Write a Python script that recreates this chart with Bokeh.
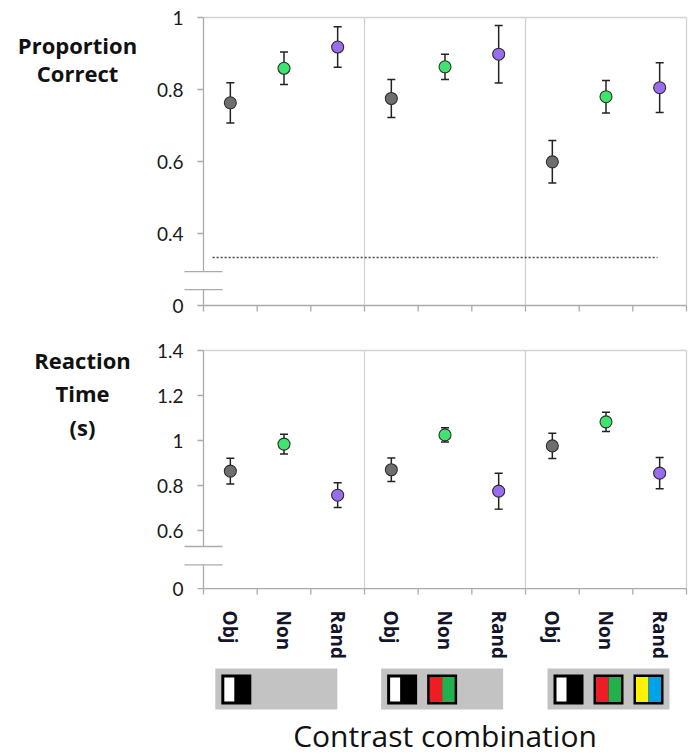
import math
from bokeh.plotting import figure
from bokeh.models import ColumnDataSource, Range1d, Whisker, TeeHead
from bokeh.layouts import column
from bokeh.embed import file_html
from bokeh.resources import INLINE
from bokeh.core.properties import value

# ---------------- data ----------------
conditions = ["Obj", "Non", "Rand"]
combinations = ["BW", "BW+RG", "BW+RG+YB"]
cond_colors = ["#6e6e6e", "#3ee46c", "#9a6cf0"]

pc_mean = [0.763, 0.859, 0.918, 0.775, 0.863, 0.898, 0.599, 0.780, 0.805]
pc_err = [0.056, 0.045, 0.056, 0.053, 0.035, 0.080, 0.059, 0.045, 0.069]
rt_mean = [0.864, 0.984, 0.757, 0.870, 1.025, 0.775, 0.976, 1.083, 0.855]
rt_err = [0.057, 0.044, 0.055, 0.052, 0.032, 0.080, 0.056, 0.043, 0.069]
chance = 1.0 / 3.0
chance_x = [0.17, 8.46]

pc_ticks = [0.2, 0.4, 0.6, 0.8, 1.0]
pc_tick_labels = ["0", "0.4", "0.6", "0.8", "1"]
pc_break = [0.244, 0.294]
pc_title = ["Proportion", "Correct"]
rt_ticks = [0.342, 0.6, 0.8, 1.0, 1.2, 1.4]
rt_tick_labels = ["0", "0.6", "0.8", "1", "1.2", "1.4"]
rt_break = [0.447, 0.529]
rt_title = ["Reaction", "Time", "(s)"]
x_title = "Contrast combination"

# icon contents per contrast combination
icon_sets = [[("#ffffff", "#000000")],
             [("#ffffff", "#000000"), ("#ee1c24", "#22b14c")],
             [("#ffffff", "#000000"), ("#ee1c24", "#22b14c"), ("#fff200", "#00a2e8")]]

# ---------------- style ----------------
W = 694
LEFT = 203
RIGHT = 8
AXIS_C = "#ababab"
LIGHT_C = "#d2d2d2"
TEXT_C = "#1a1a1a"
n_cat = len(conditions) * len(combinations)
n_grp = len(combinations)
xs = [i + 0.5 for i in range(n_cat)]
cat_labels = conditions * n_grp
colors = cond_colors * n_grp
ppu = (W - LEFT - RIGHT) / n_cat          # pixels per x unit
u = 1.0 / ppu                             # x units per pixel
X0 = -LEFT * u
X1 = n_cat + RIGHT * u


def make_panel(height, pad_top, ppy, ymin, ymax, means, errs, ticks, tick_labels, brk,
               title_lines, title_x, title_y, show_labels):
    v = 1.0 / ppy                          # y units per pixel
    top_val = ymax + pad_top * v
    p = figure(width=W, height=height, x_range=Range1d(X0, X1),
               y_range=Range1d(top_val - height * v, top_val),
               output_backend="svg", toolbar_location=None,
               x_axis_location=None, y_axis_location=None,
               min_border_left=0, min_border_right=0, min_border_top=0, min_border_bottom=0)
    p.background_fill_color = "white"
    p.border_fill_color = "white"
    p.outline_line_color = None
    p.grid.visible = False

    # frame top/right border and group separators
    seps = [3 * g for g in range(1, n_grp)]
    p.segment(x0=[0, n_cat] + seps, y0=[ymax, ymin] + [ymin] * len(seps),
              x1=[n_cat, n_cat] + seps, y1=[ymax, ymax] + [ymax] * len(seps),
              line_color=LIGHT_C, line_width=1.3)

    # y axis (with break)
    p.segment(x0=[0, 0], y0=[brk[1], ymin], x1=[0, 0], y1=[ymax, brk[0]],
              line_color=AXIS_C, line_width=1.3)
    nt = len(ticks)
    p.segment(x0=[-6 * u] * nt, y0=ticks, x1=[0] * nt, y1=ticks,
              line_color=AXIS_C, line_width=1.3)
    p.text(x=[-20 * u] * nt, y=ticks, text=tick_labels, text_align="right",
           text_baseline="middle", text_font=value("Lato"), text_font_size="19px",
           text_color=TEXT_C)
    half = 19 * u
    p.segment(x0=[-half, -half], y0=brk, x1=[half, half], y1=brk,
              line_color=AXIS_C, line_width=1.3)

    # x axis
    edges = list(range(n_cat + 1))
    p.segment(x0=[0], y0=[ymin], x1=[n_cat], y1=[ymin], line_color=AXIS_C, line_width=1.3)
    p.segment(x0=edges, y0=[ymin] * len(edges), x1=edges, y1=[ymin - 6 * v] * len(edges),
              line_color=AXIS_C, line_width=1.3)
    if show_labels:
        p.text(x=xs, y=[ymin - 22 * v] * n_cat, text=cat_labels, angle=-math.pi / 2,
               text_align="left", text_baseline="middle", text_font=value("Open Sans"),
               text_font_style="bold", text_font_size="19px", text_color="#14142a")

    # y title
    p.text(x=[title_x] * len(title_lines), y=title_y, text=title_lines, text_align="center",
           text_baseline="middle", text_font=value("Open Sans"), text_font_style="bold",
           text_font_size="22px", text_color="#111111")

    src = ColumnDataSource(dict(x=xs, y=means, color=colors,
                                upper=[m + e for m, e in zip(means, errs)],
                                lower=[m - e for m, e in zip(means, errs)]))
    p.add_layout(Whisker(source=src, base="x", upper="upper", lower="lower",
                         line_color="#222222", line_width=1.5,
                         upper_head=TeeHead(size=8, line_color="#222222", line_width=1.5),
                         lower_head=TeeHead(size=8, line_color="#222222", line_width=1.5)))
    p.scatter("x", "y", source=src, size=12, fill_color="color",
              line_color="#2e2e2e", line_width=1.1)
    return p


# top: proportion correct
p1 = make_panel(330, 17, 360.0, 0.2, 1.0, pc_mean, pc_err, pc_ticks, pc_tick_labels, pc_break,
                pc_title, (77 - LEFT) * u, [0.925, 0.847], False)
p1.line(chance_x, [chance, chance], line_dash="2 2", line_color="#444444", line_width=1.6)

# bottom: reaction time
p2 = make_panel(335, 20, 225.0, 0.342, 1.4, rt_mean, rt_err, rt_ticks, rt_tick_labels, rt_break,
                rt_title, (82 - LEFT) * u, [1.36, 1.209, 1.058], True)

# icons + axis title
H3 = 91
p3 = figure(width=W, height=H3, x_range=Range1d(X0, X1), y_range=Range1d(H3, 0),
            output_backend="svg", toolbar_location=None,
            x_axis_location=None, y_axis_location=None,
            min_border_left=0, min_border_right=0, min_border_top=0, min_border_bottom=0)
p3.outline_line_color = None
p3.grid.visible = False
box_left = [0.22, 3.31, 6.41]
box_w = 122 * u
bl, br, bt, bb = [], [], [], []
ol, orr, ot, ob = [], [], [], []
il, ir, itop, ib, ic = [], [], [], [], []
for g, icons in enumerate(icon_sets):
    bl.append(box_left[g]); br.append(box_left[g] + box_w); bt.append(3); bb.append(44)
    for k, (c1, c2) in enumerate(icons):
        sx = box_left[g] + 6 * u + k * 40 * u
        ol.append(sx); orr.append(sx + 30 * u); ot.append(9); ob.append(39)
        if c2 == "#000000":
            il.append(sx + 3 * u); ir.append(sx + 13 * u); itop.append(12); ib.append(36); ic.append(c1)
        else:
            il.append(sx + 2.5 * u); ir.append(sx + 15 * u); itop.append(11.5); ib.append(36.5); ic.append(c1)
            il.append(sx + 15 * u); ir.append(sx + 27.5 * u); itop.append(11.5); ib.append(36.5); ic.append(c2)
p3.quad(left=bl, right=br, top=bt, bottom=bb, fill_color="#c3c3c3", line_color=None)
p3.quad(left=ol, right=orr, top=ot, bottom=ob, fill_color="#000000", line_color=None)
p3.quad(left=il, right=ir, top=itop, bottom=ib, fill_color=ic, line_color=None)
p3.text(x=[n_cat / 2], y=[70], text=[x_title], text_align="center",
        text_baseline="middle", text_font=value("Open Sans"), text_font_size="30px",
        text_color="#111111")

layout = column(p1, p2, p3, spacing=0)
open("out.html", "w").write(file_html(layout, INLINE))
